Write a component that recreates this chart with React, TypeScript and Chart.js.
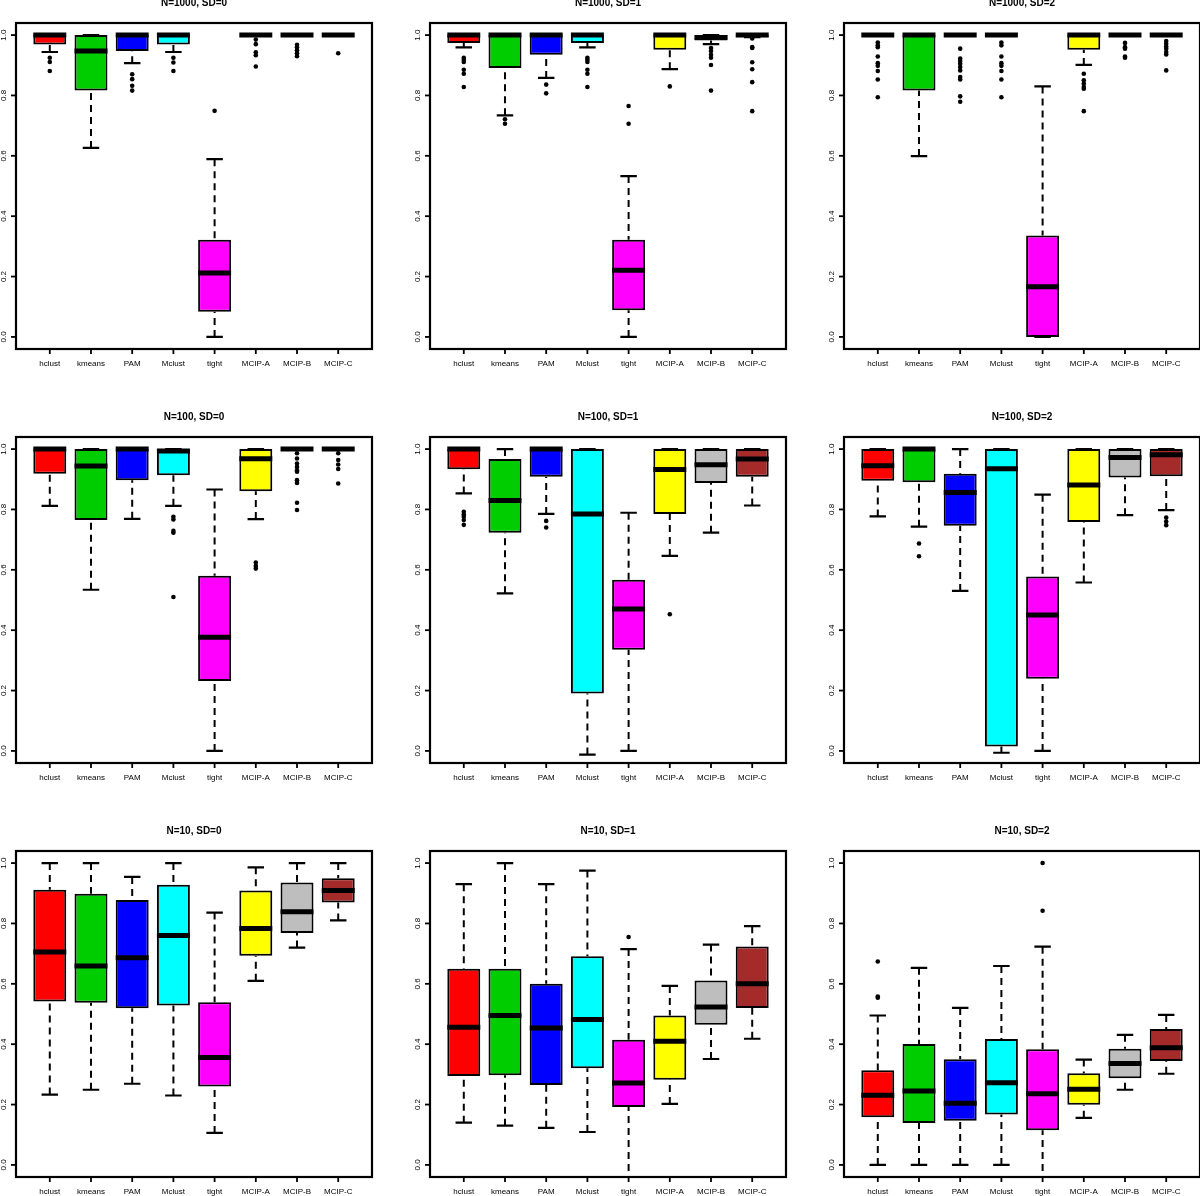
import React, { useEffect, useRef } from "react";
import { Chart, registerables } from "chart.js";

Chart.register(...registerables);

// ---------- categories, colours, ticks ----------
const methods = ["hclust", "kmeans", "PAM", "Mclust", "tight", "MCIP-A", "MCIP-B", "MCIP-C"];
const boxColors = ["#FF0000", "#00CD00", "#0000FF", "#00FFFF", "#FF00FF", "#FFFF00", "#BEBEBE", "#A52A2A"];
const yTickValues = [0, 0.2, 0.4, 0.6, 0.8, 1.0];
const yTickLabels = ["0.0", "0.2", "0.4", "0.6", "0.8", "1.0"];

// ---------- N=1000, SD=0 ----------
const n1000sd0Low = [0.944, 0.626, 0.907, 0.944, 0.0, 1.0, 1.0, 1.0];
const n1000sd0Q1 = [0.969, 0.816, 0.947, 0.969, 0.083, 1.0, 1.0, 1.0];
const n1000sd0Median = [1.0, 0.947, 1.0, 1.0, 0.212, 1.0, 1.0, 1.0];
const n1000sd0Q3 = [1.0, 1.0, 1.0, 1.0, 0.322, 1.0, 1.0, 1.0];
const n1000sd0High = [1.0, 1.0, 1.0, 1.0, 0.589, 1.0, 1.0, 1.0];
const n1000sd0Outliers = [
  [0.925, 0.911, 0.881], [], [0.87, 0.854, 0.832, 0.816], [0.925, 0.909, 0.881],
  [0.749], [0.985, 0.97, 0.943, 0.933, 0.896], [0.968, 0.96, 0.95, 0.94, 0.93], [0.94],
];

// ---------- N=1000, SD=1 ----------
const n1000sd1Low = [0.959, 0.734, 0.858, 0.959, 0.0, 0.887, 0.97, 0.993];
const n1000sd1Q1 = [0.974, 0.891, 0.935, 0.974, 0.088, 0.951, 0.982, 0.993];
const n1000sd1Median = [1.0, 1.0, 1.0, 1.0, 0.221, 1.0, 0.992, 1.0];
const n1000sd1Q3 = [1.0, 1.0, 1.0, 1.0, 0.322, 1.0, 1.0, 1.0];
const n1000sd1High = [1.0, 1.0, 1.0, 1.0, 0.533, 1.0, 1.0, 1.0];
const n1000sd1Outliers = [
  [0.925, 0.918, 0.911, 0.885, 0.872, 0.828], [0.721, 0.706], [0.836, 0.807],
  [0.925, 0.918, 0.911, 0.885, 0.872, 0.828], [0.765, 0.706], [0.83],
  [0.957, 0.947, 0.935, 0.925, 0.901, 0.816], [0.989, 0.96, 0.957, 0.91, 0.887, 0.844, 0.748],
];

// ---------- N=1000, SD=2 ----------
const n1000sd2Low = [1.0, 0.599, 1.0, 1.0, 0.0, 0.901, 1.0, 1.0];
const n1000sd2Q1 = [1.0, 0.816, 1.0, 1.0, 0.0, 0.951, 1.0, 1.0];
const n1000sd2Median = [1.0, 1.0, 1.0, 1.0, 0.166, 1.0, 1.0, 1.0];
const n1000sd2Q3 = [1.0, 1.0, 1.0, 1.0, 0.336, 1.0, 1.0, 1.0];
const n1000sd2High = [1.0, 1.0, 1.0, 1.0, 0.83, 1.0, 1.0, 1.0];
const n1000sd2Outliers = [
  [0.975, 0.966, 0.96, 0.929, 0.907, 0.898, 0.881, 0.853, 0.794], [],
  [0.955, 0.922, 0.914, 0.905, 0.894, 0.883, 0.861, 0.853, 0.797, 0.779],
  [0.975, 0.966, 0.929, 0.907, 0.898, 0.881, 0.853, 0.794], [],
  [0.872, 0.85, 0.839, 0.828, 0.822, 0.748], [0.974, 0.96, 0.955, 0.929, 0.925],
  [0.98, 0.971, 0.962, 0.955, 0.944, 0.936, 0.883],
];

// ---------- N=100, SD=0 ----------
const n100sd0Low = [0.812, 0.534, 0.769, 0.812, 0.0, 0.768, 1.0, 1.0];
const n100sd0Q1 = [0.918, 0.765, 0.897, 0.913, 0.232, 0.86, 1.0, 1.0];
const n100sd0Median = [1.0, 0.944, 1.0, 0.994, 0.377, 0.968, 1.0, 1.0];
const n100sd0Q3 = [1.0, 1.0, 1.0, 1.0, 0.58, 1.0, 1.0, 1.0];
const n100sd0High = [1.0, 1.0, 1.0, 1.0, 0.866, 1.0, 1.0, 1.0];
const n100sd0Outliers = [
  [], [], [], [0.776, 0.767, 0.729, 0.723, 0.51], [], [0.624, 0.613, 0.604],
  [0.986, 0.969, 0.952, 0.941, 0.93, 0.925, 0.897, 0.888, 0.822, 0.798],
  [0.986, 0.964, 0.949, 0.934, 0.886],
];

// ---------- N=100, SD=1 ----------
const n100sd1Low = [0.853, 0.522, 0.785, -0.012, 0.0, 0.646, 0.723, 0.813];
const n100sd1Q1 = [0.933, 0.723, 0.908, 0.19, 0.335, 0.785, 0.888, 0.908];
const n100sd1Median = [1.0, 0.83, 1.0, 0.785, 0.47, 0.932, 0.948, 0.967];
const n100sd1Q3 = [1.0, 0.967, 1.0, 1.0, 0.567, 1.0, 1.0, 1.0];
const n100sd1High = [1.0, 1.0, 1.0, 1.0, 0.789, 1.0, 1.0, 1.0];
const n100sd1Outliers = [
  [0.792, 0.783, 0.776, 0.765, 0.749], [], [0.762, 0.74], [], [], [0.453], [], [],
];

// ---------- N=100, SD=2 ----------
const n100sd2Low = [0.777, 0.743, 0.53, -0.006, 0.0, 0.558, 0.781, 0.798];
const n100sd2Q1 = [0.895, 0.89, 0.746, 0.015, 0.239, 0.758, 0.906, 0.91];
const n100sd2Median = [0.945, 1.0, 0.856, 0.935, 0.45, 0.881, 0.972, 0.981];
const n100sd2Q3 = [1.0, 1.0, 0.918, 1.0, 0.578, 1.0, 1.0, 1.0];
const n100sd2High = [1.0, 1.0, 1.0, 1.0, 0.849, 1.0, 1.0, 1.0];
const n100sd2Outliers = [[], [0.687, 0.645], [], [], [], [], [], [0.773, 0.76, 0.748]];

// ---------- N=10, SD=0 ----------
const n10sd0Low = [0.233, 0.249, 0.269, 0.23, 0.106, 0.61, 0.72, 0.81];
const n10sd0Q1 = [0.541, 0.537, 0.519, 0.528, 0.26, 0.693, 0.768, 0.869];
const n10sd0Median = [0.705, 0.659, 0.686, 0.76, 0.356, 0.783, 0.839, 0.909];
const n10sd0Q3 = [0.912, 0.898, 0.878, 0.928, 0.539, 0.909, 0.936, 0.95];
const n10sd0High = [1.0, 1.0, 0.954, 1.0, 0.836, 0.986, 1.0, 1.0];
const n10sd0Outliers = [[], [], [], [], [], [], [], []];

// ---------- N=10, SD=1 ----------
const n10sd1Low = [0.14, 0.13, 0.123, 0.109, -0.1, 0.202, 0.351, 0.418];
const n10sd1Q1 = [0.295, 0.297, 0.265, 0.32, 0.192, 0.282, 0.464, 0.52];
const n10sd1Median = [0.456, 0.495, 0.454, 0.482, 0.271, 0.41, 0.523, 0.6];
const n10sd1Q3 = [0.65, 0.65, 0.6, 0.691, 0.415, 0.495, 0.611, 0.724];
const n10sd1High = [0.93, 1.0, 0.93, 0.975, 0.715, 0.593, 0.73, 0.791];
const n10sd1Outliers = [[], [], [], [], [0.755], [], [], []];

// ---------- N=10, SD=2 ----------
const n10sd2Low = [0.0, 0.0, 0.0, 0.0, -0.1, 0.156, 0.249, 0.302];
const n10sd2Q1 = [0.158, 0.139, 0.146, 0.167, 0.115, 0.199, 0.287, 0.344];
const n10sd2Median = [0.231, 0.245, 0.204, 0.272, 0.236, 0.251, 0.336, 0.388];
const n10sd2Q3 = [0.314, 0.401, 0.35, 0.417, 0.383, 0.304, 0.385, 0.45];
const n10sd2High = [0.495, 0.653, 0.52, 0.659, 0.723, 0.349, 0.431, 0.497];
const n10sd2Outliers = [[0.674, 0.558, 0.554], [], [], [], [1.0, 0.842], [], [], []];

const panels = [
  { title: "N=1000, SD=0", low: n1000sd0Low, q1: n1000sd0Q1, median: n1000sd0Median, q3: n1000sd0Q3, high: n1000sd0High, outliers: n1000sd0Outliers },
  { title: "N=1000, SD=1", low: n1000sd1Low, q1: n1000sd1Q1, median: n1000sd1Median, q3: n1000sd1Q3, high: n1000sd1High, outliers: n1000sd1Outliers },
  { title: "N=1000, SD=2", low: n1000sd2Low, q1: n1000sd2Q1, median: n1000sd2Median, q3: n1000sd2Q3, high: n1000sd2High, outliers: n1000sd2Outliers },
  { title: "N=100, SD=0", low: n100sd0Low, q1: n100sd0Q1, median: n100sd0Median, q3: n100sd0Q3, high: n100sd0High, outliers: n100sd0Outliers },
  { title: "N=100, SD=1", low: n100sd1Low, q1: n100sd1Q1, median: n100sd1Median, q3: n100sd1Q3, high: n100sd1High, outliers: n100sd1Outliers },
  { title: "N=100, SD=2", low: n100sd2Low, q1: n100sd2Q1, median: n100sd2Median, q3: n100sd2Q3, high: n100sd2High, outliers: n100sd2Outliers },
  { title: "N=10, SD=0", low: n10sd0Low, q1: n10sd0Q1, median: n10sd0Median, q3: n10sd0Q3, high: n10sd0High, outliers: n10sd0Outliers },
  { title: "N=10, SD=1", low: n10sd1Low, q1: n10sd1Q1, median: n10sd1Median, q3: n10sd1Q3, high: n10sd1High, outliers: n10sd1Outliers },
  { title: "N=10, SD=2", low: n10sd2Low, q1: n10sd2Q1, median: n10sd2Median, q3: n10sd2Q3, high: n10sd2High, outliers: n10sd2Outliers },
];

// ---------- layout ----------
const COL_LEFTS = [16, 430, 844];
const ROW_TOPS = [23, 437, 851];
const BOX_W = 356;
const BOX_H = 326;
const PAD_L = 30;
const PAD_T = 30;
const PAD_R = 14;
const PAD_B = 34;
const CANVAS_W = PAD_L + BOX_W + PAD_R;
const CANVAS_H = PAD_T + BOX_H + PAD_B;
const FONT = '"Liberation Sans", Arial, Helvetica, sans-serif';

function BoxPanel({ panel, left, top }: any) {
  const ref = useRef<HTMLCanvasElement>(null);

  useEffect(() => {
    if (!ref.current) return;
    const whiskers: any[] = [];
    const staples: any[] = [];
    const medians: any[] = [];
    const outlierPts: any[] = [];
    methods.forEach((_, i) => {
      const x = i + 1;
      whiskers.push({ x, y: panel.low[i] }, { x, y: panel.q1[i] }, { x, y: null });
      whiskers.push({ x, y: panel.high[i] }, { x, y: panel.q3[i] }, { x, y: null });
      staples.push({ x: x - 0.2, y: panel.low[i] }, { x: x + 0.2, y: panel.low[i] }, { x, y: null });
      staples.push({ x: x - 0.2, y: panel.high[i] }, { x: x + 0.2, y: panel.high[i] }, { x, y: null });
      medians.push({ x: x - 0.4, y: panel.median[i] }, { x: x + 0.4, y: panel.median[i] }, { x, y: null });
      panel.outliers[i].forEach((v: number) => outlierPts.push({ x, y: v }));
    });

    const decor = {
      id: "panelDecor",
      afterDraw(chart: any) {
        const { ctx, chartArea: a } = chart;
        const xs = chart.scales.x;
        const ys = chart.scales.y;
        ctx.save();
        ctx.strokeStyle = "#000";
        ctx.fillStyle = "#000";
        ctx.lineWidth = 2.2;
        ctx.strokeRect(a.left, a.top, a.right - a.left, a.bottom - a.top);
        ctx.lineWidth = 1.8;
        ctx.font = `8px ${FONT}`;
        ctx.textAlign = "center";
        ctx.textBaseline = "middle";
        methods.forEach((m, i) => {
          const px = xs.getPixelForValue(i + 1);
          ctx.beginPath();
          ctx.moveTo(px, a.bottom);
          ctx.lineTo(px, a.bottom + 5);
          ctx.stroke();
          ctx.fillText(m, px, a.bottom + 15);
        });
        yTickValues.forEach((v, k) => {
          const py = ys.getPixelForValue(v);
          ctx.beginPath();
          ctx.moveTo(a.left - 5, py);
          ctx.lineTo(a.left, py);
          ctx.stroke();
          ctx.save();
          ctx.translate(a.left - 12.5, py);
          ctx.rotate(-Math.PI / 2);
          ctx.fillText(yTickLabels[k], 0, 0);
          ctx.restore();
        });
        ctx.font = `bold 10px ${FONT}`;
        ctx.fillText(panel.title, (a.left + a.right) / 2, a.top - 19.5);
        ctx.restore();
      },
    };

    const chart = new Chart(ref.current, {
      type: "bar",
      data: {
        datasets: [
          {
            type: "line",
            data: whiskers,
            borderColor: "#000",
            borderWidth: 2,
            borderDash: [7, 5],
            borderCapStyle: "butt",
            pointRadius: 0,
            fill: false,
            spanGaps: false,
            order: 5,
          } as any,
          {
            type: "bar",
            data: methods.map((_, i) => ({ x: i + 1, y: [panel.q1[i], panel.q3[i]] })),
            backgroundColor: boxColors,
            borderColor: "#000",
            borderWidth: 2,
            borderSkipped: false,
            barPercentage: 0.8,
            categoryPercentage: 1,
            order: 4,
          } as any,
          {
            type: "line",
            data: staples,
            borderColor: "#000",
            borderWidth: 2.2,
            borderCapStyle: "butt",
            pointRadius: 0,
            fill: false,
            spanGaps: false,
            order: 3,
          } as any,
          {
            type: "line",
            data: medians,
            borderColor: "#000",
            borderWidth: 5,
            borderCapStyle: "butt",
            pointRadius: 0,
            fill: false,
            spanGaps: false,
            order: 2,
          } as any,
          {
            type: "scatter",
            data: outlierPts,
            pointRadius: 2.3,
            pointBackgroundColor: "#000",
            pointBorderWidth: 0,
            borderWidth: 0,
            order: 1,
          } as any,
        ],
      },
      options: {
        animation: false,
        responsive: false,
        maintainAspectRatio: false,
        events: [],
        layout: { padding: { left: PAD_L, top: PAD_T, right: PAD_R, bottom: PAD_B } },
        plugins: {
          legend: { display: false },
          tooltip: { enabled: false },
          title: { display: false },
        },
        scales: {
          x: { type: "linear", min: 0.18, max: 8.82, offset: false, display: false },
          y: { type: "linear", min: -0.04, max: 1.04, display: false },
        },
      } as any,
      plugins: [decor],
    });
    return () => chart.destroy();
  }, [panel]);

  return (
    <canvas
      ref={ref}
      width={CANVAS_W}
      height={CANVAS_H}
      style={{
        position: "absolute",
        left: left - PAD_L,
        top: top - PAD_T,
        width: CANVAS_W,
        height: CANVAS_H,
      }}
    />
  );
}

export default function App() {
  return (
    <div
      style={{
        position: "absolute",
        left: 0,
        top: 0,
        width: 1200,
        height: 1196,
        overflow: "hidden",
        background: "#fff",
      }}
    >
      {panels.map((p, idx) => (
        <BoxPanel
          key={p.title}
          panel={p}
          left={COL_LEFTS[idx % 3]}
          top={ROW_TOPS[Math.floor(idx / 3)]}
        />
      ))}
    </div>
  );
}
